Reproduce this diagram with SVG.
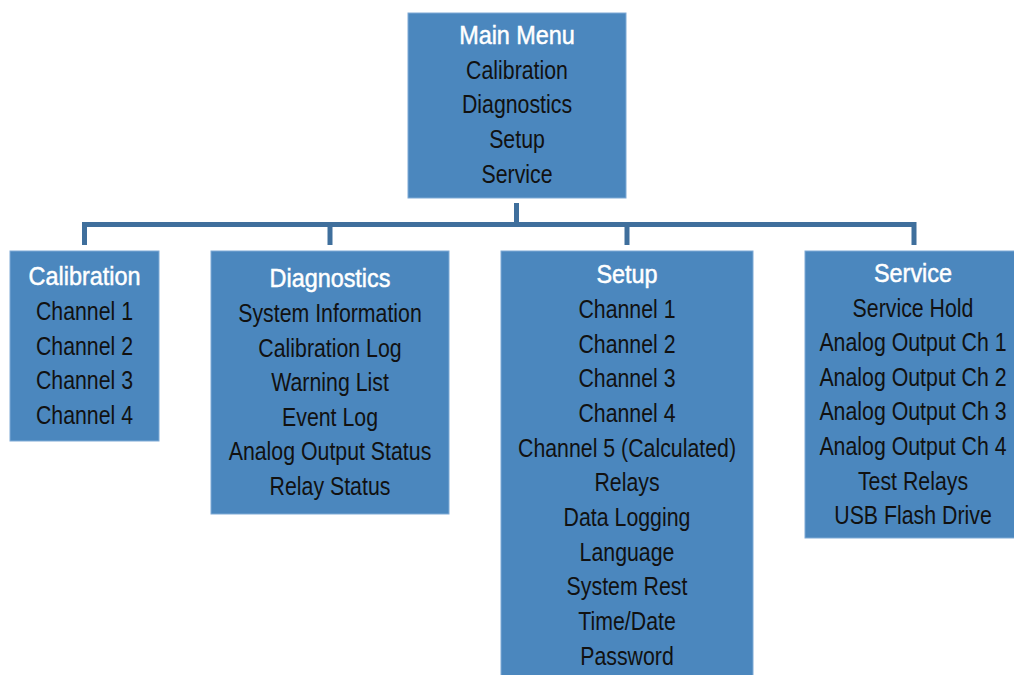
<svg xmlns="http://www.w3.org/2000/svg" width="1014" height="675" viewBox="0 0 1014 675">
<style>
.box{fill:#4B87BE;stroke:#7FAAD6;stroke-width:1}
.t{font-family:"Liberation Sans Narrow","Liberation Sans",Arial,sans-serif;font-size:26px;text-anchor:middle;fill:#111}
.h{fill:#fff;stroke:#fff;stroke-width:0.5}
.c{fill:none;stroke:#3F6F9C;stroke-width:5;stroke-linejoin:miter}
</style>
<rect width="1014" height="675" fill="#fff"/>
<g id="connectors">
<path class="c" d="M516.5 203V224"/>
<path class="c" d="M84.5 245V224.5H914V245"/>
<path class="c" d="M330 224V245"/>
<path class="c" d="M627 224V245"/>
</g>
<g id="main">
<rect class="box" x="408" y="13" width="218" height="185"/>
<text class="t h" transform="translate(517 44) scale(0.9 1)">Main Menu</text>
<g transform="translate(517 0) scale(0.82 1)">
<text class="t" x="0" y="79">Calibration</text>
<text class="t" x="0" y="113">Diagnostics</text>
<text class="t" x="0" y="148">Setup</text>
<text class="t" x="0" y="183">Service</text>
</g>
</g>
<g id="calibration">
<rect class="box" x="10" y="251" width="149" height="190"/>
<text class="t h" transform="translate(84.5 285) scale(0.9 1)">Calibration</text>
<g transform="translate(84.5 0) scale(0.82 1)">
<text class="t" x="0" y="320">Channel 1</text>
<text class="t" x="0" y="355">Channel 2</text>
<text class="t" x="0" y="389">Channel 3</text>
<text class="t" x="0" y="424">Channel 4</text>
</g>
</g>
<g id="diagnostics">
<rect class="box" x="211" y="251" width="238" height="263"/>
<text class="t h" transform="translate(330 287) scale(0.9 1)">Diagnostics</text>
<g transform="translate(330 0) scale(0.82 1)">
<text class="t" x="0" y="322">System Information</text>
<text class="t" x="0" y="357">Calibration Log</text>
<text class="t" x="0" y="391">Warning List</text>
<text class="t" x="0" y="426">Event Log</text>
<text class="t" x="0" y="460">Analog Output Status</text>
<text class="t" x="0" y="495">Relay Status</text>
</g>
</g>
<g id="setup">
<rect class="box" x="501" y="251" width="252" height="430"/>
<text class="t h" transform="translate(627 283) scale(0.9 1)">Setup</text>
<g transform="translate(627 0) scale(0.82 1)">
<text class="t" x="0" y="318">Channel 1</text>
<text class="t" x="0" y="353">Channel 2</text>
<text class="t" x="0" y="387">Channel 3</text>
<text class="t" x="0" y="422">Channel 4</text>
<text class="t" x="0" y="457">Channel 5 (Calculated)</text>
<text class="t" x="0" y="491">Relays</text>
<text class="t" x="0" y="526">Data Logging</text>
<text class="t" x="0" y="561">Language</text>
<text class="t" x="0" y="595">System Rest</text>
<text class="t" x="0" y="630">Time/Date</text>
<text class="t" x="0" y="665">Password</text>
</g>
</g>
<g id="service">
<rect class="box" x="805" y="251" width="215" height="287"/>
<text class="t h" transform="translate(913 282) scale(0.9 1)">Service</text>
<g transform="translate(913 0) scale(0.82 1)">
<text class="t" x="0" y="317">Service Hold</text>
<text class="t" x="0" y="351">Analog Output Ch 1</text>
<text class="t" x="0" y="386">Analog Output Ch 2</text>
<text class="t" x="0" y="420">Analog Output Ch 3</text>
<text class="t" x="0" y="455">Analog Output Ch 4</text>
<text class="t" x="0" y="490">Test Relays</text>
<text class="t" x="0" y="524">USB Flash Drive</text>
</g>
</g>
</svg>
